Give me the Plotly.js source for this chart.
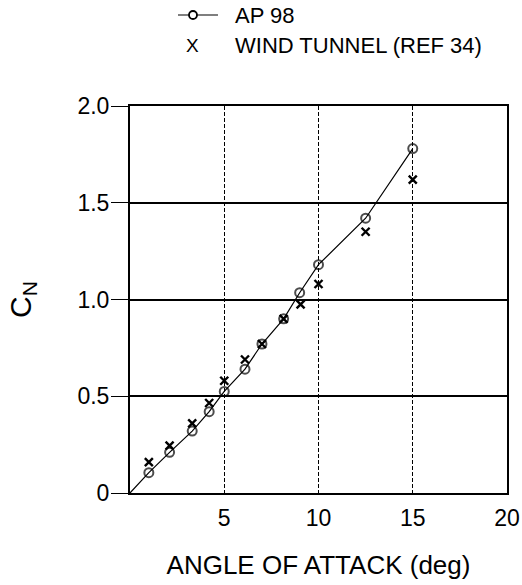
<!DOCTYPE html>
<html>
<head>
<meta charset="utf-8">
<script src="https://cdn.plot.ly/plotly-3.0.1.min.js"></script>
<style>html,body{margin:0;padding:0;background:#fff;}#chart{width:522px;height:585px;}</style>
</head>
<body>
<div id="chart"></div>
<script>
// AP 98 prediction (line through origin, circles at computed points)
var apAlpha = [1.0, 2.1, 3.3, 4.2, 5.0, 6.1, 7.0, 8.15, 9.0, 10.0, 12.5, 15.0];
var apCN    = [0.105, 0.21, 0.32, 0.42, 0.525, 0.64, 0.77, 0.90, 1.035, 1.18, 1.42, 1.78];
// Wind tunnel data (Ref 34)
var wtAlpha = [1.0, 2.1, 3.3, 4.2, 5.0, 6.1, 7.0, 8.15, 9.05, 10.0, 12.5, 15.0];
var wtCN    = [0.16, 0.245, 0.36, 0.465, 0.58, 0.69, 0.77, 0.90, 0.975, 1.08, 1.35, 1.62];
// Axis ticks
var xTickVals = [5, 10, 15, 20];
var xTickText = ['5', '10', '15', '20'];
var yTickVals = [0, 0.5, 1.0, 1.5, 2.0];
var yTickText = ['0', '0.5', '1.0', '1.5', '2.0'];
// Legend labels
var seriesNames = ['AP 98', 'WIND TUNNEL (REF 34)'];

var font = 'Liberation Sans, Arial, Helvetica, sans-serif';

var traces = [
  {
    x: [0].concat(apAlpha), y: [0].concat(apCN),
    mode: 'lines+markers', name: seriesNames[0],
    line: {color: '#000', width: 1.2},
    marker: {symbol: 'circle-open', size: [0].concat(apAlpha.map(function(){return 9;})), color: '#000', line: {width: 2, color: '#000'}},
    showlegend: false
  },
  {
    x: wtAlpha, y: wtCN,
    mode: 'markers', name: seriesNames[1],
    marker: {symbol: 'x-thin-open', size: 8, color: '#000', line: {width: 2.4, color: '#000'}},
    showlegend: false
  }
];

var legFont = {family: font, size: 22, color: '#000'};
var layout = {
  width: 522, height: 585,
  margin: {l: 130, r: 15, t: 106, b: 92},
  paper_bgcolor: '#fff', plot_bgcolor: '#fff',
  font: {family: font, color: '#000', size: 20},
  showlegend: false,
  shapes: [
    {type: 'line', xref: 'paper', yref: 'paper', x0: 0.1273, x1: 0.2334, y0: 1.2351, y1: 1.2351,
     line: {color: '#000', width: 1.2}},
    {type: 'circle', xref: 'paper', yref: 'paper', xsizemode: 'pixel', ysizemode: 'pixel',
     xanchor: 0.1671, yanchor: 1.2351, x0: -4, x1: 4, y0: -4, y1: 4,
     line: {color: '#000', width: 1.8}, fillcolor: '#fff'}
  ],
  annotations: [
    {xref: 'paper', yref: 'paper', x: 0.2732, y: 1.2351, xanchor: 'left', yanchor: 'middle',
     text: seriesNames[0], showarrow: false, font: legFont},
    {xref: 'paper', yref: 'paper', x: 0.1671, y: 1.1576, xanchor: 'center', yanchor: 'middle',
     text: 'X', showarrow: false, font: {family: font, size: 19, color: '#000'}},
    {xref: 'paper', yref: 'paper', x: 0.2732, y: 1.1576, xanchor: 'left', yanchor: 'middle',
     text: seriesNames[1], showarrow: false, font: legFont}
  ],
  xaxis: {
    range: [0, 20], tickvals: xTickVals, ticktext: xTickText,
    showline: true, mirror: true, linecolor: '#000', linewidth: 2,
    showgrid: true, gridcolor: '#000', gridwidth: 1, griddash: '4px,2px',
    ticks: '', ticklabelstandoff: 3, zeroline: false,
    tickfont: {family: font, size: 23, color: '#000'},
    title: {text: 'ANGLE OF ATTACK (deg)', font: {family: font, size: 26, color: '#000'}, standoff: 26}
  },
  yaxis: {
    range: [0, 2.0], tickvals: yTickVals, ticktext: yTickText,
    showline: true, mirror: true, linecolor: '#000', linewidth: 2,
    showgrid: true, gridcolor: '#000', gridwidth: 2,
    ticks: 'outside', ticklen: 17, tickwidth: 1, tickcolor: '#000', zeroline: false,
    ticklabelstandoff: -3,
    tickfont: {family: font, size: 23, color: '#000'},
    title: {text: 'C<sub>N</sub>', font: {family: font, size: 30, color: '#000'}, standoff: 37}
  }
};

Plotly.newPlot('chart', traces, layout, {displayModeBar: false, staticPlot: true});
</script>
</body>
</html>
